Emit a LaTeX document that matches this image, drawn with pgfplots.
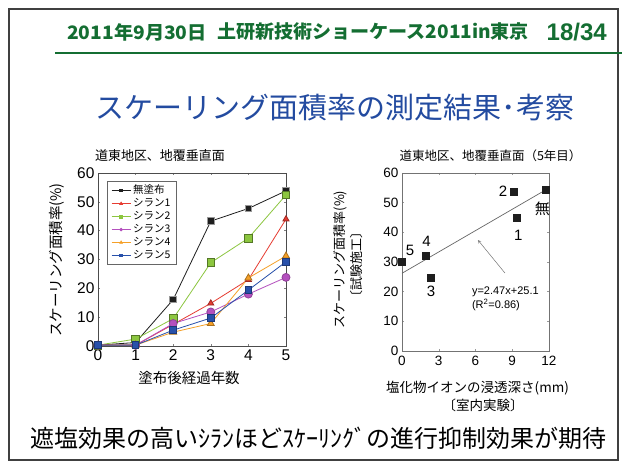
\documentclass[border=0pt]{standalone}
\usepackage{fontspec}
\setmainfont{Liberation Sans}
\newfontfamily\jp{Noto Sans CJK JP}
\usepackage{graphicx}
\usepackage{pgfplots}
\pgfplotsset{compat=1.18}
\definecolor{hdrgreen}{RGB}{20,110,50}
\definecolor{ttlblue}{RGB}{35,75,160}
\definecolor{cblack}{RGB}{30,30,30}
\definecolor{cred}{RGB}{230,60,50}
\definecolor{cgreen}{RGB}{140,198,63}
\definecolor{cpurple}{RGB}{180,80,190}
\definecolor{corange}{RGB}{245,160,40}
\definecolor{cblue}{RGB}{40,80,170}
\newcommand{\fs}[1]{\fontsize{#1}{#1}\selectfont}
\begin{document}
\begin{tikzpicture}
\useasboundingbox (0pt,0pt) rectangle (622pt,463pt);
\fill[white] (0pt,0pt) rectangle (622pt,463pt);
% slide frame
\draw[line width=1.6pt, black!75] (9pt,3pt) rectangle (618pt,454pt);
% header
\draw[line width=1.5pt, hdrgreen] (55pt,410pt) -- (622pt,410pt);
\node[anchor=west, inner sep=0pt, text=hdrgreen] at (67pt,431pt) {\scalebox{1.04}[1]{\jp\bfseries\fs{18.5}2011年9月30日}};
\node[anchor=west, inner sep=0pt, text=hdrgreen] at (217pt,431pt) {\scalebox{1.03}[1]{\jp\bfseries\fs{18.5}土研新技術ショーケース2011in東京}};
\node[anchor=east, inner sep=0pt, text=hdrgreen] at (607pt,431pt) {\bfseries\fs{24}18/34};
% title
\node[inner sep=0pt, text=ttlblue] at (335pt,355pt) {\jp\fs{29}スケーリング面積率の測定結果･考察};
% ---------------- left chart
\begin{axis}[
  at={(98pt,117pt)}, anchor=south west, scale only axis,
  width=188pt, height=173pt,
  xmin=0, xmax=5, ymin=0, ymax=60,
  xtick={0,1,2,3,4,5}, ytick={0,10,20,30,40,50,60},
  tick align=inside, major tick length=2pt,
  axis line style={black!70}, every tick/.style={black!50},
  ticklabel style={font=\fs{15.5}},
  /pgf/number format/assume math mode=true,
  clip=false,
  legend style={at={(0.048,0.954)}, anchor=north west, draw=black!60,
    font=\jp\fs{10.5}, row sep=-0.6pt, inner xsep=4pt, inner ysep=2pt, fill=white},
  legend cell align=left,
  legend image code/.code={\draw[#1] (0pt,0pt) -- (19pt,0pt); \draw[#1, mark repeat=1] plot coordinates {(9.5pt,0pt)};},
]
\addlegendimage{cblack, line width=0.8pt, mark=square*, mark size=1.3pt}
\addlegendentry{無塗布}
\addlegendimage{cred, line width=0.8pt, mark=triangle*, mark size=1.5pt}
\addlegendentry{シラン1}
\addlegendimage{cgreen, line width=0.8pt, mark=square*, mark size=1.3pt}
\addlegendentry{シラン2}
\addlegendimage{cpurple, line width=0.8pt, mark=*, mark size=1.3pt}
\addlegendentry{シラン3}
\addlegendimage{corange, line width=0.8pt, mark=triangle*, mark size=1.5pt}
\addlegendentry{シラン4}
\addlegendimage{cblue, line width=0.8pt, mark=square*, mark size=1.3pt}
\addlegendentry{シラン5}
\addplot[forget plot, cblack, line width=0.8pt, mark=square*, mark size=3.3pt, mark options={fill=cblack, draw=black!40}]
  coordinates {(0,0.3) (1,1.2) (2,16.1) (3,43.3) (4,47.7) (5,53.8)};
\addplot[forget plot, cgreen, line width=0.8pt, mark=square*, mark size=3.8pt, mark options={fill=cgreen, draw=cgreen!60!black}]
  coordinates {(0,0.3) (1,2.4) (2,9.5) (3,28.9) (4,37.4) (5,52.4)};
\addplot[forget plot, cred, line width=0.8pt, mark=triangle*, mark size=3.5pt, mark options={fill=cred, draw=cred!70!black}]
  coordinates {(0,0.3) (1,0.3) (2,7.5) (3,14.8) (4,23.0) (5,44.0)};
\addplot[forget plot, cpurple, line width=0.8pt, mark=*, mark size=4pt, mark options={fill=cpurple, draw=cpurple!80!black}]
  coordinates {(0,0.3) (1,0.3) (2,7.8) (3,11.8) (4,18.0) (5,23.8)};
\addplot[forget plot, corange, line width=0.8pt, mark=triangle*, mark size=4pt, mark options={fill=corange, draw=corange!70!black}]
  coordinates {(0,0.3) (1,0.3) (2,4.8) (3,7.8) (4,23.6) (5,31.2)};
\addplot[forget plot, cblue, line width=0.8pt, mark=square*, mark size=3.3pt, mark options={fill=cblue, draw=cblue!70!black}]
  coordinates {(0,0.3) (1,0.3) (2,5.5) (3,9.7) (4,19.4) (5,29.2)};
\end{axis}
\node[inner sep=0pt] at (160pt,307pt) {\jp\fs{13}道東地区、地覆垂直面};
\node[inner sep=0pt, rotate=90] at (57pt,203pt) {\jp\fs{14.5}スケーリング面積率(\%)};
\node[inner sep=0pt] at (189pt,85pt) {\jp\fs{14.5}塗布後経過年数};
% ---------------- right chart
\begin{axis}[
  at={(402pt,112pt)}, anchor=south west, scale only axis,
  width=147pt, height=178pt,
  xmin=0, xmax=12, ymin=0, ymax=60,
  xtick={0,3,6,9,12}, ytick={0,10,20,30,40,50,60},
  tick align=inside, major tick length=2pt,
  axis line style={black!55}, every tick/.style={black!40},
  ticklabel style={font=\fs{13.5}},
  xticklabel style={yshift=-2pt},
  /pgf/number format/assume math mode=true,
  clip=false,
]
\addplot[black!60, line width=0.7pt] coordinates {(0,26.2) (11.6,54.0)};
\addplot[only marks, mark=square*, mark size=3.5pt, cblack]
  coordinates {(0,30.0) (1.96,32.2) (2.37,24.6) (9.1,53.6) (9.4,44.8) (11.75,54.5)};
\node[font=\fs{15}] at (axis cs:0.65,33.8) {5};
\node[font=\fs{15}] at (axis cs:2.0,36.9) {4};
\node[font=\fs{15}] at (axis cs:2.37,20.0) {3};
\node[font=\fs{15}] at (axis cs:8.25,53.7) {2};
\node[font=\fs{15}] at (axis cs:9.5,39.1) {1};
\node[font=\jp\fs{15}] at (axis cs:11.45,48.0) {無};
\draw[->, black!55, line width=0.5pt, >=stealth] (axis cs:8.4,26.3) -- (axis cs:6.2,37.4);
\node[anchor=west, inner sep=0pt, font=\fs{11}] at (axis cs:5.7,20.0) {y=2.47x+25.1};
\node[anchor=west, inner sep=0pt, font=\fs{11}] at (axis cs:5.7,15.5) {(R\textsuperscript{2}=0.86)};
\end{axis}
\node[inner sep=0pt] at (490.5pt,307pt) {\jp\fs{12.5}道東地区、地覆垂直面（5年目）};
\node[inner sep=0pt, rotate=90] at (340pt,203.5pt) {\jp\fs{13}スケーリング面積率(\%)};
\node[inner sep=0pt, rotate=90] at (357pt,198pt) {\jp\fs{13}〔試験施工〕};
\node[inner sep=0pt] at (477.5pt,75pt) {\jp\fs{13.5}塩化物イオンの浸透深さ(mm)};
\node[inner sep=0pt] at (483pt,58pt) {\jp\fs{13.5}〔室内実験〕};
% bottom text
\node[inner sep=0pt] at (318.5pt,25pt) {\jp\fs{24}遮塩効果の高いｼﾗﾝほどｽｹｰﾘﾝｸﾞの進行抑制効果が期待};
\end{tikzpicture}
\end{document}
